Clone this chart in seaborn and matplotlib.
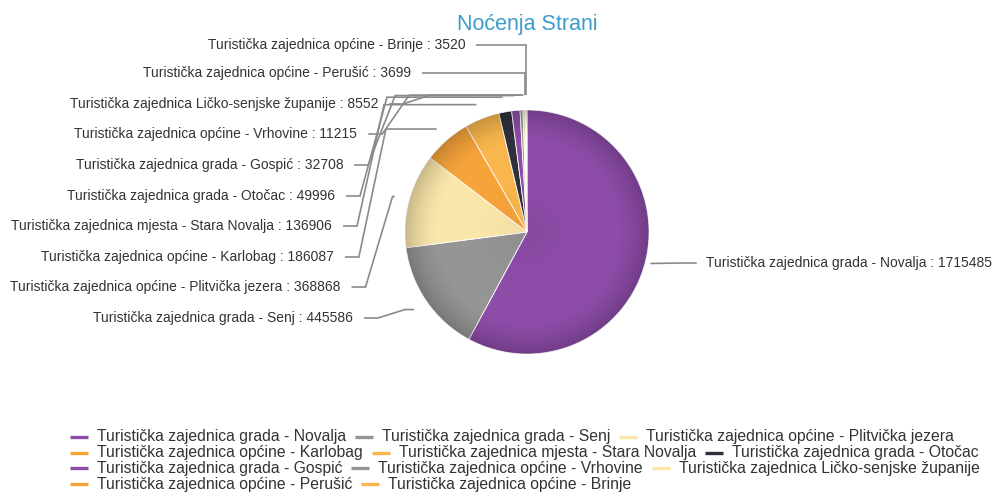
import numpy as np
import matplotlib
matplotlib.use("Agg")
import matplotlib.pyplot as plt
from matplotlib.patches import Circle
import seaborn as sns

# ---------------- data ----------------
categories = [
    "Turistička zajednica grada - Novalja",
    "Turistička zajednica grada - Senj",
    "Turistička zajednica općine - Plitvička jezera",
    "Turistička zajednica općine - Karlobag",
    "Turistička zajednica mjesta - Stara Novalja",
    "Turistička zajednica grada - Otočac",
    "Turistička zajednica grada - Gospić",
    "Turistička zajednica općine - Vrhovine",
    "Turistička zajednica Ličko-senjske županije",
    "Turistička zajednica općine - Perušić",
    "Turistička zajednica općine - Brinje",
]
values = [1715485, 445586, 368868, 186087, 136906, 49996, 32708, 11215, 8552, 3699, 3520]
title = "Noćenja Strani"

# ---------------- style / layout ----------------
palette = ["#8d4ca8", "#959595", "#fbe6aa", "#f6a43a", "#f9b64c", "#30303c"]
colors = [palette[i % len(palette)] for i in range(len(values))]

W, H = 1006, 501
cx, cy, r = 527, 232, 122
label_R, label_cy = 195, 230
left_label_y = [45, 73, 104, 134, 165, 196, 226, 257, 287, 318]   # top -> bottom
right_label_y = 263
label_fs = 10.0
legend_fs = 11.3
text_color = "#333333"
conn_color = "#8a8a8a"

sns.set_theme(style="white")
plt.rcParams["font.family"] = ["Liberation Sans", "DejaVu Sans"]

fig = plt.figure(figsize=(W / 100, H / 100), dpi=100)
ax = fig.add_axes([0, 0, 1, 1])

wedges, _ = ax.pie(values, colors=colors, center=(cx, cy), radius=r,
                   startangle=270, counterclock=True,
                   wedgeprops=dict(edgecolor="white", linewidth=0.6))
ax.set_xlim(0, W)
ax.set_ylim(H, 0)
ax.set_aspect("equal")
ax.axis("off")

# subtle radial shading (darker rim)
n = 400
yy, xx = np.mgrid[-1:1:n * 1j, -1:1:n * 1j]
rho = np.sqrt(xx ** 2 + yy ** 2)
alpha = 0.20 * np.clip((rho - 0.72) / 0.28, 0, 1) ** 1.6 + 0.04 * np.clip(1 - rho / 0.45, 0, 1)
rgba = np.zeros((n, n, 4))
rgba[..., 3] = alpha
im = ax.imshow(rgba, extent=(cx - r, cx + r, cy + r, cy - r), zorder=3, interpolation="bilinear")
clip = Circle((cx, cy), r, transform=ax.transData)
im.set_clip_path(clip)
ax.set_xlim(0, W)
ax.set_ylim(H, 0)

# title
ax.text(cx, 24, title, ha="center", va="center", fontsize=15.5, color="#3d9ccc")


def mid_point(w, dist):
    t = np.deg2rad((w.theta1 + w.theta2) / 2)
    return cx + dist * np.cos(t), cy + dist * np.sin(t)


# left labels (data order reversed: smallest at top)
left_idx = list(range(len(values) - 1, 0, -1))
for idx, ly in zip(left_idx, left_label_y):
    dy = ly - label_cy
    xe = cx - np.sqrt(max(label_R ** 2 - dy ** 2, 0))
    ax.text(xe, ly, f"{categories[idx]} : {values[idx]}", ha="right", va="center",
            fontsize=label_fs, color=text_color)
    px, py = mid_point(wedges[idx], r + 15)
    if ly < py - 5:
        xs_ = [xe + 11, px, px]
        ys_ = [ly, ly, py]
    else:
        corner = min(xe + 52, px)
        xs_ = [xe + 11, xe + 25, corner, px]
        ys_ = [ly, ly, py, py]
    ax.plot(xs_, ys_, color=conn_color, lw=1.2, solid_capstyle="butt",
            solid_joinstyle="miter", zorder=2)

# right label (largest)
dy = right_label_y - label_cy
xs = cx + np.sqrt(label_R ** 2 - dy ** 2) - 13
ax.text(xs, right_label_y, f"{categories[0]} : {values[0]}", ha="left", va="center",
        fontsize=label_fs, color=text_color)
px, py = mid_point(wedges[0], r + 6)
ax.plot([px, xs - 24, xs - 10], [py, right_label_y, right_label_y], color=conn_color, lw=1.2, zorder=2)

# legend (flowing, Highcharts-like)
renderer = fig.canvas.get_renderer()
leg_left, leg_top, row_h, max_w = 70, 437, 15.7, 960
sym_w, sym_gap, item_gap = 18, 9, 9
x, y = leg_left, leg_top
for name, col in zip(categories, colors):
    t = ax.text(0, 0, name, fontsize=legend_fs, color=text_color, ha="left", va="center")
    bb = t.get_window_extent(renderer)
    tw = bb.width
    item_w = sym_w + sym_gap + tw
    if x + item_w > leg_left + max_w and x > leg_left:
        x = leg_left
        y += row_h
    ax.plot([x, x + sym_w], [y, y], color=col, lw=2.4, solid_capstyle="butt")
    t.set_position((x + sym_w + sym_gap, y))
    x += item_w + item_gap

fig.savefig("out.png", dpi=100)
